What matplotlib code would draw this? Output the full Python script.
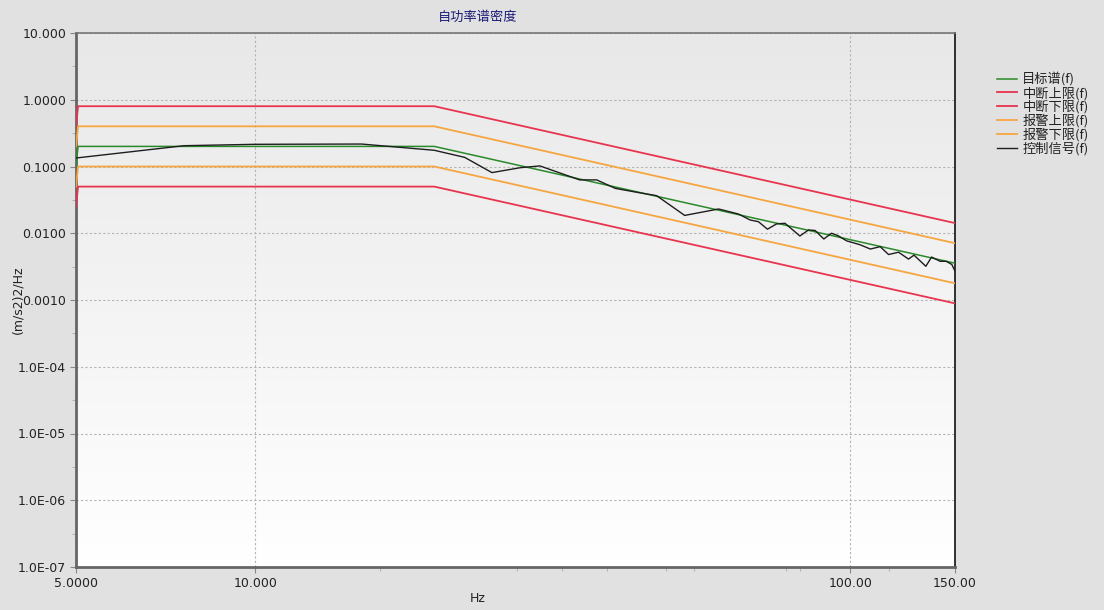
import numpy as np
import matplotlib
matplotlib.use("Agg")
import matplotlib.pyplot as plt
from matplotlib.colors import LinearSegmentedColormap
from matplotlib.ticker import FixedLocator, NullFormatter

plt.rcParams['font.family'] = ['DejaVu Sans', 'Noto Sans CJK SC']

# profile break points (Hz) and levels ((m/s2)2/Hz)
prof_freq = [5.0, 5.04, 20.0, 150.0]
target = [0.1, 0.2, 0.2, 0.00356]
abort_hi = [0.4, 0.8, 0.8, 0.0142]
abort_lo = [0.025, 0.05, 0.05, 0.00089]
alarm_hi = [0.2, 0.4, 0.4, 0.0071]
alarm_lo = [0.05, 0.1, 0.1, 0.00178]

# control signal
ctrl_freq = [5.0, 7.6, 10.0, 15.1, 20.0, 22.5, 25.0, 27.9, 30.1, 35.1, 37.5, 40.3,
             43.2, 47.3, 52.7, 56.0, 60.1, 64.9, 67.9, 70.1, 72.6, 75.2, 77.7, 82.3,
             85.1, 87.3, 90.3, 93.0, 95.4, 98.6, 104.0, 108.1, 112.3, 116.0, 120.6,
             125.3, 128.0, 134.0, 137.0, 141.6, 145.0, 148.2, 150.0]
ctrl_val = [0.134, 0.205, 0.215, 0.217, 0.175, 0.137, 0.081, 0.096, 0.102, 0.063,
            0.063, 0.047, 0.042, 0.0365, 0.0185, 0.0205, 0.0231, 0.0194, 0.0158,
            0.0149, 0.0115, 0.0138, 0.0141, 0.0091, 0.0112, 0.0110, 0.0082, 0.0100,
            0.0092, 0.0077, 0.0067, 0.0058, 0.0063, 0.0048, 0.0052, 0.0041, 0.0047,
            0.0032, 0.0044, 0.0038, 0.0038, 0.0034, 0.0027]

series_names = ['目标谱(f)', '中断上限(f)', '中断下限(f)', '报警上限(f)', '报警下限(f)', '控制信号(f)']

x_ticks = [5, 10, 100, 150]
x_labels = ['5.0000', '10.000', '100.00', '150.00']
x_minor = [16.2, 27.5, 32.8, 39, 49, 54.6, 78, 82.3, 116]
y_ticks = [1e-7, 1e-6, 1e-5, 1e-4, 1e-3, 1e-2, 1e-1, 1, 10]
y_labels = ['1.0E-07', '1.0E-06', '1.0E-05', '1.0E-04', '0.0010', '0.0100', '0.1000', '1.0000', '10.000']

cjk = ['Noto Sans CJK SC', 'DejaVu Sans']

fig = plt.figure(figsize=(11.04, 6.10), dpi=100, facecolor='#e1e1e1')
ax = fig.add_axes([76/1104, 43/610, 879/1104, 534/610])

# background gradient, light grey at top to white at bottom
cmap = LinearSegmentedColormap.from_list('bg', ['#ffffff', '#e8e8e8'])
grad = np.linspace(0, 1, 256).reshape(-1, 1)
ax.imshow(grad, extent=[0, 1, 0, 1], transform=ax.transAxes, aspect='auto',
          cmap=cmap, origin='lower', zorder=0)

ax.set_xscale('log')
ax.set_yscale('log')

ax.plot(prof_freq, target, color='#2a8a2a', lw=1.1, label=series_names[0], zorder=3)
ax.plot(prof_freq, abort_hi, color='#e8344e', lw=1.3, label=series_names[1], zorder=3)
ax.plot(prof_freq, abort_lo, color='#e8344e', lw=1.3, label=series_names[2], zorder=3)
ax.plot(prof_freq, alarm_hi, color='#f5a640', lw=1.3, label=series_names[3], zorder=3)
ax.plot(prof_freq, alarm_lo, color='#f5a640', lw=1.3, label=series_names[4], zorder=3)
ax.plot(ctrl_freq, ctrl_val, color='#1e1e1e', lw=1.0, label=series_names[5], zorder=4)

ax.set_xlim(5, 150)
ax.set_ylim(1e-7, 10)

ax.xaxis.set_major_locator(FixedLocator(x_ticks))
ax.set_xticklabels(x_labels)
ax.xaxis.set_minor_locator(FixedLocator(x_minor))
ax.xaxis.set_minor_formatter(NullFormatter())
ax.yaxis.set_major_locator(FixedLocator(y_ticks))
ax.set_yticklabels(y_labels)
ax.yaxis.set_minor_locator(FixedLocator([10**(k + 0.5) for k in range(-7, 1)]))
ax.yaxis.set_minor_formatter(NullFormatter())

ax.tick_params(which='major', length=4, color='#888888', labelsize=9,
               labelcolor='#222222', pad=3)
ax.tick_params(which='minor', length=3, color='#aaaaaa')
ax.grid(True, which='major', color='#b4b4b4', linestyle=(0, (2, 2)), lw=0.8, zorder=1)

for side in ['left', 'bottom']:
    ax.spines[side].set_color('#666666')
    ax.spines[side].set_linewidth(2.0)
ax.spines['top'].set_color('#777777')
ax.spines['top'].set_linewidth(1.2)
ax.spines['right'].set_color('#111111')
ax.spines['right'].set_linewidth(1.2)

fig.text(478/1104, 1 - 17/610, '自功率谱密度', ha='center', va='center',
         fontsize=9.5, color='#1c1c78', family=cjk)
fig.text(478/1104, 1 - 598/610, 'Hz', ha='center', va='center', fontsize=9, color='#222222')
fig.text(18/1104, 1 - 300/610, '(m/s2)2/Hz', ha='center', va='center', rotation=90,
         fontsize=9, color='#222222')

leg = ax.legend(loc='upper left', bbox_to_anchor=(992/1104, 1 - 67/610),
                bbox_transform=fig.transFigure, frameon=False,
                prop={'family': cjk, 'size': 9.5},
                handlelength=1.5, handletextpad=0.4, labelspacing=0.02,
                borderaxespad=0)
for t in leg.get_texts():
    t.set_color('#222222')

fig.savefig('out.png', dpi=100, facecolor=fig.get_facecolor())
